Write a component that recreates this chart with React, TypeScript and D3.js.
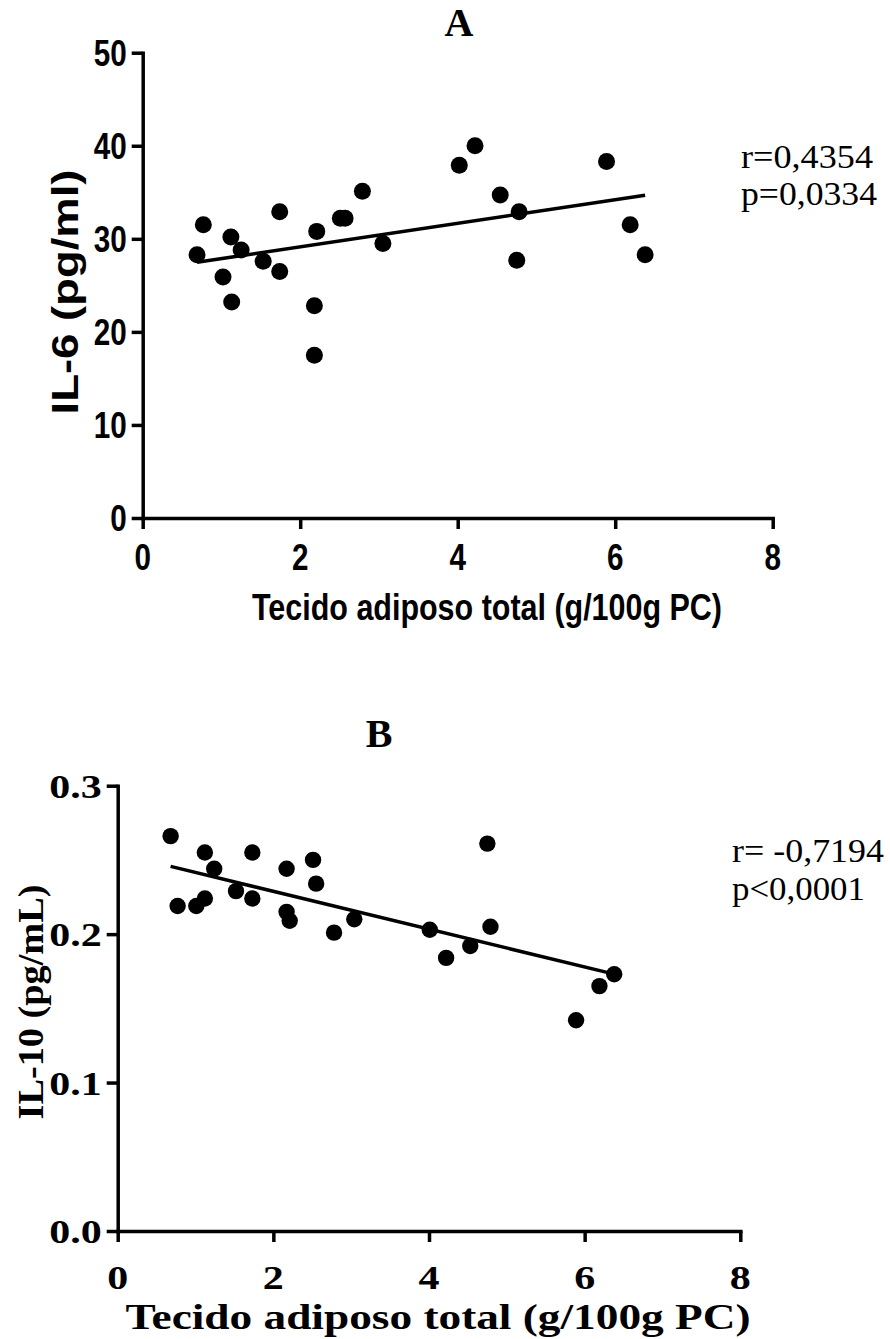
import * as React from "react";
import * as d3 from "d3";

// Panel A: IL-6 vs total adipose tissue
const adiposeA: number[] = [0.69, 0.77, 1.12, 1.25, 1.02, 1.13, 1.53, 1.74, 1.74, 2.18, 2.18, 2.21, 2.51, 2.57, 2.79, 3.05, 4.02, 4.22, 4.54, 4.78, 4.75, 5.89, 6.19, 6.38];
const il6: number[] = [28.3, 31.5, 30.2, 28.8, 25.9, 23.2, 27.6, 32.9, 26.5, 22.8, 17.5, 30.8, 32.2, 32.2, 35.1, 29.5, 37.9, 40.0, 34.7, 32.9, 27.7, 38.3, 31.5, 28.3];
// Panel B: IL-10 vs total adipose tissue
const adiposeB: number[] = [0.68, 0.77, 1.01, 1.12, 1.12, 1.24, 1.52, 1.73, 1.73, 2.17, 2.17, 2.21, 2.51, 2.55, 2.78, 3.04, 4.01, 4.22, 4.53, 4.75, 4.79, 5.89, 6.19, 6.38];
const il10: number[] = [0.266, 0.219, 0.219, 0.224, 0.255, 0.244, 0.229, 0.255, 0.224, 0.244, 0.215, 0.209, 0.250, 0.234, 0.201, 0.210, 0.203, 0.184, 0.192, 0.261, 0.205, 0.142, 0.165, 0.173];

const xTicks: number[] = [0, 2, 4, 6, 8];
const il6Ticks: number[] = [0, 10, 20, 30, 40, 50];
const il10Ticks: number[] = [0, 0.1, 0.2, 0.3];
const xTitle: string = "Tecido adiposo total (g/100g PC)";
const statsA: string[] = ["r=0,4354", "p=0,0334"];
const statsB: string[] = ["r= -0,7194", "p<0,0001"];

const SANS: string = "'Liberation Sans', Arial, sans-serif";
const SERIF: string = "'Liberation Serif', 'Times New Roman', serif";

type Sel = d3.Selection<SVGGElement, unknown, null, undefined>;

interface PanelSpec {
    title: string;
    titleX: number;
    titleY: number;
    xs: number[];
    ys: number[];
    yTicks: number[];
    yFormat: (v: number) => string;
    yMax: number;
    left: number;
    right: number;
    top: number;
    bottom: number;
    font: string;
    tickFont: number;
    digitWidth: number;
    tickLabelGap: number;
    xTickBaseline: number;
    xTitleFont: number;
    xTitleX: number;
    xTitleY: number;
    xTitleWidth: number;
    yTitle: string;
    yTitleX: number;
    yTitleY: number;
    yTitleWidth: number;
    stats: string[];
    statsX: number;
    statsY: number[];
    statsWidth: number[];
    radius: number;
}

// least squares fit used for the regression line
function fit(xs: number[], ys: number[]): [number, number] {
    const mx: number = d3.mean(xs) as number;
    const my: number = d3.mean(ys) as number;
    let sxy: number = 0;
    let sxx: number = 0;
    for (let i: number = 0; i < xs.length; i += 1) {
        sxy += (xs[i] - mx) * (ys[i] - my);
        sxx += (xs[i] - mx) * (xs[i] - mx);
    }
    const slope: number = sxy / sxx;
    return [slope, my - slope * mx];
}

function stretchText(t: d3.Selection<SVGTextElement, any, any, any>, width: number): void {
    t.attr("textLength", width).attr("lengthAdjust", "spacingAndGlyphs");
}

function drawPanel(root: Sel, p: PanelSpec): void {
    const g: Sel = root.append("g");
    const x: d3.ScaleLinear<number, number> = d3.scaleLinear().domain([0, 8]).range([p.left, p.right]);
    const y: d3.ScaleLinear<number, number> = d3.scaleLinear().domain([0, p.yMax]).range([p.bottom, p.top]);

    g.append("text")
        .attr("x", p.titleX)
        .attr("y", p.titleY)
        .attr("text-anchor", "middle")
        .attr("font-family", SERIF)
        .attr("font-weight", "bold")
        .attr("font-size", 40)
        .text(p.title);

    const xAxis: Sel = g.append("g")
        .attr("transform", `translate(0,${p.bottom})`)
        .call(d3.axisBottom(x).tickValues(xTicks).tickSize(11).tickSizeOuter(0).tickFormat(() => ""));
    const yAxis: Sel = g.append("g")
        .attr("transform", `translate(${p.left},0)`)
        .call(d3.axisLeft(y).tickValues(p.yTicks).tickSize(11).tickSizeOuter(0).tickFormat(() => ""));
    [xAxis, yAxis].forEach((a: Sel) => {
        a.selectAll("path, line").attr("stroke", "#000").attr("stroke-width", 3.5);
        a.select(".domain").attr("stroke-linecap", "square");
    });

    xTicks.forEach((v: number) => {
        const t = g.append("text")
            .attr("x", x(v))
            .attr("y", p.xTickBaseline)
            .attr("text-anchor", "middle")
            .attr("font-family", p.font)
            .attr("font-weight", "bold")
            .attr("font-size", p.tickFont)
            .text(String(v));
        stretchText(t, p.digitWidth);
    });
    p.yTicks.forEach((v: number) => {
        const label: string = p.yFormat(v);
        const t = g.append("text")
            .attr("x", p.left - 11 - p.tickLabelGap)
            .attr("y", y(v))
            .attr("dy", "0.36em")
            .attr("text-anchor", "end")
            .attr("font-family", p.font)
            .attr("font-weight", "bold")
            .attr("font-size", p.tickFont)
            .text(label);
        const digits: number = label.replace(".", "").length;
        stretchText(t, digits * p.digitWidth + (label.includes(".") ? p.digitWidth * 0.5 : 0));
    });

    const xt = g.append("text")
        .attr("x", p.xTitleX)
        .attr("y", p.xTitleY)
        .attr("text-anchor", "middle")
        .attr("font-family", p.font)
        .attr("font-weight", "bold")
        .attr("font-size", p.xTitleFont)
        .text(xTitle);
    stretchText(xt, p.xTitleWidth);

    const yt = g.append("text")
        .attr("transform", `translate(${p.yTitleX},${p.yTitleY}) rotate(-90)`)
        .attr("text-anchor", "middle")
        .attr("font-family", p.font)
        .attr("font-weight", "bold")
        .attr("font-size", p.xTitleFont)
        .text(p.yTitle);
    stretchText(yt, p.yTitleWidth);

    p.stats.forEach((s: string, i: number) => {
        const t = g.append("text")
            .attr("x", p.statsX)
            .attr("y", p.statsY[i])
            .attr("font-family", SERIF)
            .attr("font-size", 33)
            .text(s);
        stretchText(t, p.statsWidth[i]);
    });

    const [slope, intercept] = fit(p.xs, p.ys);
    const ext: [number, number] = d3.extent(p.xs) as [number, number];
    const line = d3.line<number>()
        .x((d: number) => x(d))
        .y((d: number) => y(slope * d + intercept));
    g.append("path")
        .datum(ext)
        .attr("d", line)
        .attr("fill", "none")
        .attr("stroke", "#000")
        .attr("stroke-width", 3.5);

    g.selectAll("circle.pt")
        .data(p.xs.map((v: number, i: number) => [v, p.ys[i]]))
        .enter().append("circle")
        .attr("class", "pt")
        .attr("cx", (d: number[]) => x(d[0]))
        .attr("cy", (d: number[]) => y(d[1]))
        .attr("r", p.radius)
        .attr("fill", "#000");
}

export default function App(): JSX.Element {
    const ref = React.useRef<SVGSVGElement>(null);

    React.useEffect(() => {
        document.body.style.margin = "0";
        const svg = d3.select(ref.current);
        svg.selectAll("*").remove();
        const root: Sel = svg.append("g");

        drawPanel(root, {
            title: "A", titleX: 459, titleY: 36,
            xs: adiposeA, ys: il6, yTicks: il6Ticks, yFormat: (v: number) => String(v), yMax: 50,
            left: 142.7, right: 772.7, top: 52.7, bottom: 518,
            font: SANS, tickFont: 36, digitWidth: 16.5, tickLabelGap: 5,
            xTickBaseline: 570,
            xTitleFont: 36, xTitleX: 487, xTitleY: 620, xTitleWidth: 470,
            yTitle: "IL-6 (pg/ml)", yTitleX: 78, yTitleY: 292, yTitleWidth: 245,
            stats: statsA, statsX: 741, statsY: [168, 205], statsWidth: [132, 136],
            radius: 8.5
        });
        drawPanel(root, {
            title: "B", titleX: 379, titleY: 747,
            xs: adiposeB, ys: il10, yTicks: il10Ticks, yFormat: (v: number) => v.toFixed(1), yMax: 0.3,
            left: 117.7, right: 740.3, top: 785.7, bottom: 1231,
            font: SERIF, tickFont: 34, digitWidth: 21, tickLabelGap: 5,
            xTickBaseline: 1289,
            xTitleFont: 36, xTitleX: 438, xTitleY: 1329, xTitleWidth: 625,
            yTitle: "IL-10 (pg/mL)", yTitleX: 43, yTitleY: 1002, yTitleWidth: 235,
            stats: statsB, statsX: 732, statsY: [862, 900], statsWidth: [152, 133],
            radius: 8.2
        });
    }, []);

    return <svg ref={ref} width={890} height={1339} style={{ display: "block", background: "#fff" }} />;
}
